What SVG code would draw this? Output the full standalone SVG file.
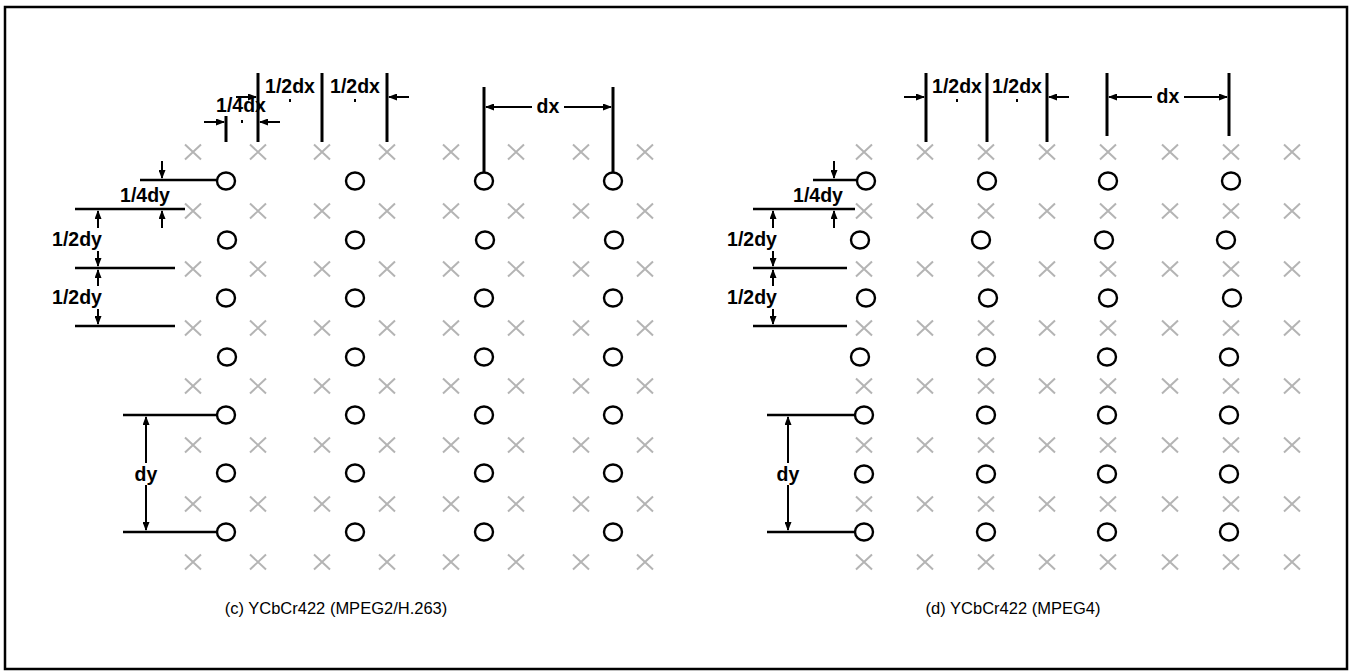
<svg xmlns="http://www.w3.org/2000/svg" xmlns:xlink="http://www.w3.org/1999/xlink" width="1353" height="671" viewBox="0 0 1353 671">
<style>
.xm{stroke:#b4b4b4;stroke-width:2;fill:none}
.ci{stroke:#000;stroke-width:2.4;fill:none}
.vl{stroke:#000;stroke-width:3}
.hl{stroke:#000;stroke-width:2.5}
.ar{stroke:#000;stroke-width:2;fill:none}
.lb{font-family:"Liberation Sans",Arial,sans-serif;font-weight:bold;font-size:19.5px;fill:#000;text-anchor:middle}
.cap{font-family:"Liberation Sans",Arial,sans-serif;font-size:16.5px;fill:#000;text-anchor:middle}
.bg{fill:#fff}
</style>
<defs>
<path id="xm" class="xm" d="M-8,-7.5 L8,7.5 M-8,7.5 L8,-7.5"/>
<ellipse id="ci" class="ci" cx="0" cy="0" rx="9" ry="8.5"/>
<marker id="ah" markerWidth="9" markerHeight="7" refX="8" refY="3.5" orient="auto-start-reverse" markerUnits="userSpaceOnUse"><path d="M0,0 L9,3.5 L0,7 z" fill="#000"/></marker>
</defs>
<rect id="frame" x="5" y="7" width="1342" height="662" fill="none" stroke="#000" stroke-width="2.5"/>

<g id="left-luma">
<use href="#xm" x="193" y="152"/><use href="#xm" x="258" y="152"/><use href="#xm" x="322" y="152"/><use href="#xm" x="387" y="152"/><use href="#xm" x="451" y="152"/><use href="#xm" x="516" y="152"/><use href="#xm" x="581" y="152"/><use href="#xm" x="645" y="152"/>
<use href="#xm" x="193" y="211"/><use href="#xm" x="258" y="211"/><use href="#xm" x="322" y="211"/><use href="#xm" x="387" y="211"/><use href="#xm" x="451" y="211"/><use href="#xm" x="516" y="211"/><use href="#xm" x="581" y="211"/><use href="#xm" x="645" y="211"/>
<use href="#xm" x="193" y="269"/><use href="#xm" x="258" y="269"/><use href="#xm" x="322" y="269"/><use href="#xm" x="387" y="269"/><use href="#xm" x="451" y="269"/><use href="#xm" x="516" y="269"/><use href="#xm" x="581" y="269"/><use href="#xm" x="645" y="269"/>
<use href="#xm" x="193" y="328"/><use href="#xm" x="258" y="328"/><use href="#xm" x="322" y="328"/><use href="#xm" x="387" y="328"/><use href="#xm" x="451" y="328"/><use href="#xm" x="516" y="328"/><use href="#xm" x="581" y="328"/><use href="#xm" x="645" y="328"/>
<use href="#xm" x="193" y="386"/><use href="#xm" x="258" y="386"/><use href="#xm" x="322" y="386"/><use href="#xm" x="387" y="386"/><use href="#xm" x="451" y="386"/><use href="#xm" x="516" y="386"/><use href="#xm" x="581" y="386"/><use href="#xm" x="645" y="386"/>
<use href="#xm" x="193" y="445"/><use href="#xm" x="258" y="445"/><use href="#xm" x="322" y="445"/><use href="#xm" x="387" y="445"/><use href="#xm" x="451" y="445"/><use href="#xm" x="516" y="445"/><use href="#xm" x="581" y="445"/><use href="#xm" x="645" y="445"/>
<use href="#xm" x="193" y="504"/><use href="#xm" x="258" y="504"/><use href="#xm" x="322" y="504"/><use href="#xm" x="387" y="504"/><use href="#xm" x="451" y="504"/><use href="#xm" x="516" y="504"/><use href="#xm" x="581" y="504"/><use href="#xm" x="645" y="504"/>
<use href="#xm" x="193" y="562"/><use href="#xm" x="258" y="562"/><use href="#xm" x="322" y="562"/><use href="#xm" x="387" y="562"/><use href="#xm" x="451" y="562"/><use href="#xm" x="516" y="562"/><use href="#xm" x="581" y="562"/><use href="#xm" x="645" y="562"/>
</g>
<g id="left-chroma">
<use href="#ci" x="226" y="181"/><use href="#ci" x="355" y="181"/><use href="#ci" x="484" y="181"/><use href="#ci" x="613" y="181"/>
<use href="#ci" x="227" y="240"/><use href="#ci" x="355" y="240"/><use href="#ci" x="485" y="240"/><use href="#ci" x="614" y="240"/>
<use href="#ci" x="226" y="298"/><use href="#ci" x="355" y="298"/><use href="#ci" x="484" y="298"/><use href="#ci" x="613" y="298"/>
<use href="#ci" x="227" y="357"/><use href="#ci" x="355" y="357"/><use href="#ci" x="484" y="357"/><use href="#ci" x="613" y="357"/>
<use href="#ci" x="226" y="415"/><use href="#ci" x="355" y="415"/><use href="#ci" x="484" y="415"/><use href="#ci" x="613" y="415"/>
<use href="#ci" x="226" y="473"/><use href="#ci" x="355" y="473"/><use href="#ci" x="484" y="473"/><use href="#ci" x="613" y="473"/>
<use href="#ci" x="226" y="532"/><use href="#ci" x="355" y="532"/><use href="#ci" x="484" y="532"/><use href="#ci" x="613" y="532"/>
</g>

<g id="right-luma">
<use href="#xm" x="864" y="152"/><use href="#xm" x="925" y="152"/><use href="#xm" x="986" y="152"/><use href="#xm" x="1047" y="152"/><use href="#xm" x="1108" y="152"/><use href="#xm" x="1170" y="152"/><use href="#xm" x="1231" y="152"/><use href="#xm" x="1292" y="152"/>
<use href="#xm" x="864" y="211"/><use href="#xm" x="925" y="211"/><use href="#xm" x="986" y="211"/><use href="#xm" x="1047" y="211"/><use href="#xm" x="1108" y="211"/><use href="#xm" x="1170" y="211"/><use href="#xm" x="1231" y="211"/><use href="#xm" x="1292" y="211"/>
<use href="#xm" x="864" y="269"/><use href="#xm" x="925" y="269"/><use href="#xm" x="986" y="269"/><use href="#xm" x="1047" y="269"/><use href="#xm" x="1108" y="269"/><use href="#xm" x="1170" y="269"/><use href="#xm" x="1231" y="269"/><use href="#xm" x="1292" y="269"/>
<use href="#xm" x="864" y="328"/><use href="#xm" x="925" y="328"/><use href="#xm" x="986" y="328"/><use href="#xm" x="1047" y="328"/><use href="#xm" x="1108" y="328"/><use href="#xm" x="1170" y="328"/><use href="#xm" x="1231" y="328"/><use href="#xm" x="1292" y="328"/>
<use href="#xm" x="864" y="386"/><use href="#xm" x="925" y="386"/><use href="#xm" x="986" y="386"/><use href="#xm" x="1047" y="386"/><use href="#xm" x="1108" y="386"/><use href="#xm" x="1170" y="386"/><use href="#xm" x="1231" y="386"/><use href="#xm" x="1292" y="386"/>
<use href="#xm" x="864" y="445"/><use href="#xm" x="925" y="445"/><use href="#xm" x="986" y="445"/><use href="#xm" x="1047" y="445"/><use href="#xm" x="1108" y="445"/><use href="#xm" x="1170" y="445"/><use href="#xm" x="1231" y="445"/><use href="#xm" x="1292" y="445"/>
<use href="#xm" x="864" y="504"/><use href="#xm" x="925" y="504"/><use href="#xm" x="986" y="504"/><use href="#xm" x="1047" y="504"/><use href="#xm" x="1108" y="504"/><use href="#xm" x="1170" y="504"/><use href="#xm" x="1231" y="504"/><use href="#xm" x="1292" y="504"/>
<use href="#xm" x="864" y="562"/><use href="#xm" x="925" y="562"/><use href="#xm" x="986" y="562"/><use href="#xm" x="1047" y="562"/><use href="#xm" x="1108" y="562"/><use href="#xm" x="1170" y="562"/><use href="#xm" x="1231" y="562"/><use href="#xm" x="1292" y="562"/>
</g>
<g id="right-chroma">
<use href="#ci" x="866" y="181"/><use href="#ci" x="987" y="181"/><use href="#ci" x="1108" y="181"/><use href="#ci" x="1231" y="181"/>
<use href="#ci" x="860" y="240"/><use href="#ci" x="981" y="240"/><use href="#ci" x="1104" y="240"/><use href="#ci" x="1226" y="240"/>
<use href="#ci" x="866" y="298"/><use href="#ci" x="988" y="298"/><use href="#ci" x="1108" y="298"/><use href="#ci" x="1232" y="298"/>
<use href="#ci" x="860" y="357"/><use href="#ci" x="986" y="357"/><use href="#ci" x="1107" y="357"/><use href="#ci" x="1229" y="357"/>
<use href="#ci" x="864" y="415"/><use href="#ci" x="986" y="415"/><use href="#ci" x="1107" y="415"/><use href="#ci" x="1229" y="415"/>
<use href="#ci" x="864" y="474"/><use href="#ci" x="986" y="474"/><use href="#ci" x="1107" y="474"/><use href="#ci" x="1229" y="474"/>
<use href="#ci" x="864" y="532"/><use href="#ci" x="986" y="532"/><use href="#ci" x="1107" y="532"/><use href="#ci" x="1229" y="532"/>
</g>

<g id="connectors">
<line class="vl" x1="226" y1="116" x2="226" y2="142"/>
<line class="vl" x1="258" y1="73" x2="258" y2="142"/>
<line class="vl" x1="322" y1="73" x2="322" y2="142"/>
<line class="vl" x1="387" y1="73" x2="387" y2="142"/>
<line class="ar" x1="204" y1="122" x2="224" y2="122" marker-end="url(#ah)"/>
<line class="ar" x1="280" y1="122" x2="260" y2="122" marker-end="url(#ah)"/>
<line class="ar" x1="236" y1="97" x2="256" y2="97" marker-end="url(#ah)"/>
<line class="ar" x1="409" y1="97" x2="389" y2="97" marker-end="url(#ah)"/>
<rect x="241" y="120" width="2" height="3" fill="#000"/>
<rect x="289" y="99" width="2" height="3" fill="#000"/>
<rect x="354" y="99" width="2" height="3" fill="#000"/>
<line class="vl" x1="484" y1="87" x2="484" y2="172"/>
<line class="vl" x1="613" y1="87" x2="613" y2="172"/>
<line class="ar" x1="486" y1="107" x2="611" y2="107" marker-start="url(#ah)" marker-end="url(#ah)"/>
<line class="hl" x1="140" y1="180" x2="217" y2="180"/>
<line class="hl" x1="75" y1="209" x2="185" y2="209"/>
<line class="hl" x1="75" y1="268" x2="175" y2="268"/>
<line class="hl" x1="75" y1="326" x2="175" y2="326"/>
<line class="ar" x1="162" y1="161" x2="162" y2="178" marker-end="url(#ah)"/>
<line class="ar" x1="162" y1="228" x2="162" y2="211" marker-end="url(#ah)"/>
<line class="ar" x1="98" y1="228" x2="98" y2="211" marker-end="url(#ah)"/>
<line class="ar" x1="98" y1="251" x2="98" y2="266" marker-end="url(#ah)"/>
<line class="ar" x1="98" y1="286" x2="98" y2="270" marker-end="url(#ah)"/>
<line class="ar" x1="98" y1="309" x2="98" y2="324" marker-end="url(#ah)"/>
<line class="hl" x1="123" y1="415" x2="217" y2="415"/>
<line class="hl" x1="123" y1="532" x2="217" y2="532"/>
<line class="ar" x1="146" y1="417" x2="146" y2="530" marker-start="url(#ah)" marker-end="url(#ah)"/>
<line class="vl" x1="926" y1="73" x2="926" y2="142"/>
<line class="vl" x1="987" y1="73" x2="987" y2="142"/>
<line class="vl" x1="1047" y1="73" x2="1047" y2="142"/>
<line class="ar" x1="904" y1="97" x2="924" y2="97" marker-end="url(#ah)"/>
<line class="ar" x1="1069" y1="97" x2="1049" y2="97" marker-end="url(#ah)"/>
<rect x="956" y="99" width="2" height="3" fill="#000"/>
<rect x="1016" y="99" width="2" height="3" fill="#000"/>
<line class="vl" x1="1107" y1="73" x2="1107" y2="136"/>
<line class="vl" x1="1229" y1="73" x2="1229" y2="136"/>
<line class="ar" x1="1109" y1="97" x2="1227" y2="97" marker-start="url(#ah)" marker-end="url(#ah)"/>
<line class="hl" x1="813" y1="180" x2="857" y2="180"/>
<line class="hl" x1="753" y1="209" x2="855" y2="209"/>
<line class="hl" x1="753" y1="268" x2="847" y2="268"/>
<line class="hl" x1="753" y1="326" x2="847" y2="326"/>
<line class="ar" x1="834" y1="161" x2="834" y2="178" marker-end="url(#ah)"/>
<line class="ar" x1="834" y1="228" x2="834" y2="211" marker-end="url(#ah)"/>
<line class="ar" x1="773" y1="228" x2="773" y2="211" marker-end="url(#ah)"/>
<line class="ar" x1="773" y1="251" x2="773" y2="266" marker-end="url(#ah)"/>
<line class="ar" x1="773" y1="286" x2="773" y2="270" marker-end="url(#ah)"/>
<line class="ar" x1="773" y1="309" x2="773" y2="324" marker-end="url(#ah)"/>
<line class="hl" x1="767" y1="415" x2="855" y2="415"/>
<line class="hl" x1="767" y1="532" x2="855" y2="532"/>
<line class="ar" x1="788" y1="417" x2="788" y2="530" marker-start="url(#ah)" marker-end="url(#ah)"/>
</g>

<g id="labels">
<text class="lb" x="241" y="112">1/4dx</text>
<text class="lb" x="290" y="93">1/2dx</text>
<text class="lb" x="355" y="93">1/2dx</text>
<rect class="bg" x="532" y="97" width="32" height="20"/>
<text class="lb" x="548" y="113">dx</text>
<text class="lb" x="145" y="202">1/4dy</text>
<text class="lb" x="77" y="246">1/2dy</text>
<text class="lb" x="77" y="304">1/2dy</text>
<rect class="bg" x="131" y="463" width="30" height="22"/>
<text class="lb" x="146" y="481">dy</text>
<text class="lb" x="957" y="93">1/2dx</text>
<text class="lb" x="1017" y="93">1/2dx</text>
<rect class="bg" x="1152" y="87" width="32" height="20"/>
<text class="lb" x="1168" y="103">dx</text>
<text class="lb" x="818" y="202">1/4dy</text>
<text class="lb" x="752" y="246">1/2dy</text>
<text class="lb" x="752" y="304">1/2dy</text>
<rect class="bg" x="773" y="463" width="30" height="22"/>
<text class="lb" x="788" y="481">dy</text>
</g>

<g id="captions">
<text class="cap" x="336" y="614">(c) YCbCr422 (MPEG2/H.263)</text>
<text class="cap" x="1013" y="614">(d) YCbCr422 (MPEG4)</text>
</g>
</svg>
